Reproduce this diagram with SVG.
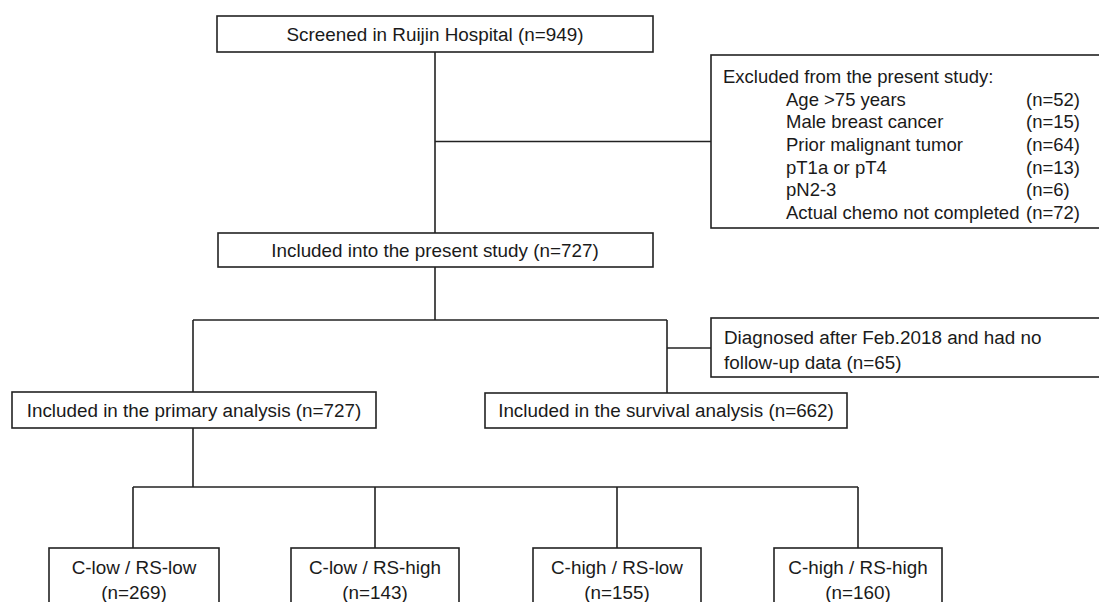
<svg xmlns="http://www.w3.org/2000/svg" width="1099" height="602" viewBox="0 0 1099 602">
<style>
.box{fill:#fff;stroke:#222;stroke-width:1.6}
.ln{fill:none;stroke:#222;stroke-width:1.6}
text{font-family:"Liberation Sans",Arial,Helvetica,sans-serif;font-size:18.85px;fill:#1a1a1a}
.ex{font-size:18.5px}
.c{text-anchor:middle}
</style>
<rect width="1099" height="602" fill="#fff"/>
<g id="connectors">
<path class="ln" d="M435 52V233"/>
<path class="ln" d="M435 141.5H711"/>
<path class="ln" d="M435 267V320"/>
<path class="ln" d="M193 320H667"/>
<path class="ln" d="M193 320V392"/>
<path class="ln" d="M667 320V393"/>
<path class="ln" d="M667 348H711"/>
<path class="ln" d="M193 428V487"/>
<path class="ln" d="M133 487H858"/>
<path class="ln" d="M133 487V548M375 487V548M617 487V548M858 487V548"/>
</g>
<g id="screened">
<rect class="box" x="217" y="16" width="436" height="36"/>
<text class="c" x="435" y="41">Screened in Ruijin Hospital (n=949)</text>
</g>
<g id="excluded">
<rect class="box" x="711" y="55" width="400" height="173"/>
<text class="ex" x="723" y="83">Excluded from the present study:</text>
<text class="ex" x="786" y="105.5">Age &gt;75 years</text><text class="ex" x="1026" y="105.5">(n=52)</text>
<text class="ex" x="786" y="128">Male breast cancer</text><text class="ex" x="1026" y="128">(n=15)</text>
<text class="ex" x="786" y="151">Prior malignant tumor</text><text class="ex" x="1026" y="151">(n=64)</text>
<text class="ex" x="786" y="173.5">pT1a or pT4</text><text class="ex" x="1026" y="173.5">(n=13)</text>
<text class="ex" x="786" y="196">pN2-3</text><text class="ex" x="1026" y="196">(n=6)</text>
<text class="ex" x="786" y="219">Actual chemo not completed</text><text class="ex" x="1026" y="219">(n=72)</text>
</g>
<g id="included">
<rect class="box" x="218" y="233" width="435" height="34"/>
<text class="c" x="435" y="257">Included into the present study (n=727)</text>
</g>
<g id="diagnosed">
<rect class="box" x="711" y="318" width="400" height="59"/>
<text x="724" y="344">Diagnosed after Feb.2018 and had no</text>
<text x="724" y="369">follow-up data (n=65)</text>
</g>
<g id="primary">
<rect class="box" x="12" y="392" width="364" height="36"/>
<text class="c" x="194" y="417">Included in the primary analysis (n=727)</text>
</g>
<g id="survival">
<rect class="box" x="485" y="393" width="362" height="35"/>
<text class="c" x="666" y="417">Included in the survival analysis (n=662)</text>
</g>
<g id="g1">
<rect class="box" x="49" y="548" width="170" height="70"/>
<text class="c" x="134" y="574">C-low / RS-low</text>
<text class="c" x="134" y="599">(n=269)</text>
</g>
<g id="g2">
<rect class="box" x="291" y="548" width="168" height="70"/>
<text class="c" x="375" y="574">C-low / RS-high</text>
<text class="c" x="375" y="599">(n=143)</text>
</g>
<g id="g3">
<rect class="box" x="533" y="548" width="168" height="70"/>
<text class="c" x="617" y="574">C-high / RS-low</text>
<text class="c" x="617" y="599">(n=155)</text>
</g>
<g id="g4">
<rect class="box" x="774" y="548" width="168" height="70"/>
<text class="c" x="858" y="574">C-high / RS-high</text>
<text class="c" x="858" y="599">(n=160)</text>
</g>
</svg>
